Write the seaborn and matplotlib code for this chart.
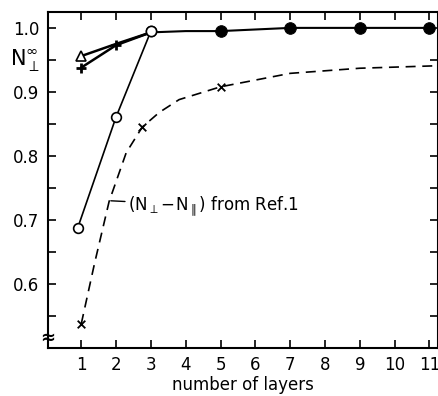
import pandas as pd
import matplotlib
matplotlib.use("Agg")
import matplotlib.pyplot as plt
import matplotlib.transforms as mtransforms
import seaborn as sns
from matplotlib.ticker import MultipleLocator

# values
layers_open = [0.9, 2, 3]
n_open = [0.688, 0.861, 0.995]

layers_tri = [1, 2, 3]
n_tri = [0.956, 0.975, 0.993]

layers_plus = [1, 2, 3]
n_plus = [0.938, 0.973, 0.993]

layers_filled = [3, 4, 5, 7, 9, 11]
n_filled = [0.993, 0.995, 0.995, 1.0, 1.0, 1.0]
filled_marked = [5, 7, 9, 11]
n_filled_marked = [0.995, 1.0, 1.0, 1.0]

# dashed curve (N_perp - N_par) from Ref. 1
layers_ref = [1, 1.38, 1.8, 2.29, 2.75, 3.24, 3.81, 5, 7, 9, 11.3]
n_ref = [0.538, 0.632, 0.729, 0.805, 0.845, 0.868, 0.888, 0.908, 0.929, 0.937, 0.941]
layers_ref_marked = [1, 2.75, 5]
n_ref_marked = [0.538, 0.845, 0.908]

sns.set_style("ticks")
plt.rcParams['font.family'] = ['DejaVu Sans']
plt.rcParams['mathtext.default'] = 'regular'
plt.rcParams['text.color'] = 'black'
plt.rcParams['axes.labelcolor'] = 'black'

fig = plt.figure(figsize=(4.39, 3.96), dpi=100)
ax = fig.add_axes([0.109, 0.121, 0.889, 0.849])

sns.lineplot(x=layers_ref, y=n_ref, ax=ax, color='black', lw=1.2,
             linestyle=(0, (6, 4)), sort=False)
sns.scatterplot(x=layers_ref_marked, y=n_ref_marked, ax=ax, marker='x',
                color='black', s=30, linewidth=1.3)

sns.lineplot(x=layers_open, y=n_open, ax=ax, color='black', lw=1.2,
             marker='o', markersize=7, markerfacecolor='white',
             markeredgecolor='black', markeredgewidth=1.2)
sns.lineplot(x=layers_tri, y=n_tri, ax=ax, color='black', lw=1.8,
             marker='^', markersize=7, markerfacecolor='white',
             markeredgecolor='black', markeredgewidth=1.2, markevery=[0])
sns.lineplot(x=layers_plus, y=n_plus, ax=ax, color='black', lw=1.8,
             marker='+', markersize=7, markeredgecolor='black',
             markeredgewidth=2, markevery=[0, 1])
sns.lineplot(x=layers_filled, y=n_filled, ax=ax, color='black', lw=1.5)
sns.scatterplot(x=filled_marked, y=n_filled_marked, ax=ax, color='black',
                s=70, edgecolor='black', zorder=5)
# open circle on top at n=3
sns.scatterplot(x=[3], y=[0.995], ax=ax, color='white', s=55,
                edgecolor='black', linewidth=1.2, zorder=6)

ax.set_xlim(0.04, 11.25)
ax.set_ylim(0.5, 1.025)
ax.set_xticks(range(1, 12))
ax.set_yticks([0.6, 0.7, 0.8, 0.9, 1.0])
ax.set_yticklabels(['0.6', '0.7', '0.8', '0.9', '1.0'])
ax.yaxis.set_minor_locator(MultipleLocator(0.05))
ax.tick_params(which='both', direction='in', length=6, width=1.2,
               top=True, right=True, labelsize=12, pad=6, colors='black')
for s in ax.spines.values():
    s.set_linewidth(1.5)
    s.set_color('black')

ax.set_xlabel('number of layers', fontsize=12, labelpad=1)
ax.set_ylabel('')

trans = mtransforms.blended_transform_factory(ax.transAxes, ax.transData)
ax.text(-0.058, 0.948, r'$N_{\perp}^{\infty}$', transform=trans, fontsize=15,
        ha='center', va='center')

# axis break mark on the y spine
ax.text(0.0, 0.516, '\u2248', transform=trans, fontsize=13, ha='center',
        va='center', fontweight='bold')

ax.annotate(r'$(N_{\perp}\!-\!N_{\parallel})$ from Ref.1', xy=(1.85, 0.73),
            xytext=(2.35, 0.722), fontsize=12, va='center', ha='left',
            arrowprops=dict(arrowstyle='-', color='black', lw=1,
                            shrinkA=0, shrinkB=0))

fig.savefig('out.png', dpi=100)
